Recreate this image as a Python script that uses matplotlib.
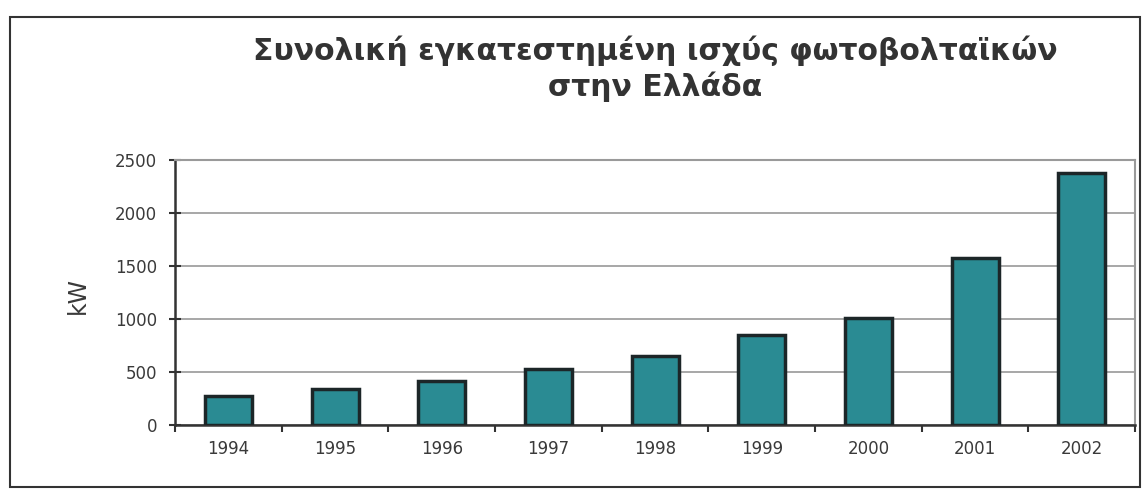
import matplotlib.pyplot as plt
from matplotlib.patches import Rectangle

plt.rcParams["font.family"] = ["DejaVu Sans"]

years = ["1994", "1995", "1996", "1997", "1998", "1999", "2000", "2001", "2002"]
power_kw = [280, 340, 415, 530, 655, 850, 1010, 1580, 2380]

title = "Συνολική εγκατεστημένη ισχύς φωτοβολταϊκών\nστην Ελλάδα"

fig = plt.figure(figsize=(11.47, 4.91), dpi=100)
ax = fig.add_axes([0.1526, 0.134, 0.837, 0.54])

# chart frame around everything
fig.patches.append(Rectangle((10 / 1147, 4 / 491), 1130 / 1147, 470 / 491,
                             transform=fig.transFigure, fill=False,
                             edgecolor="#333333", linewidth=1.5))

x = range(len(years))
ax.bar(x, power_kw, width=0.44, color="#2a8b93", edgecolor="#1c2628",
       linewidth=2.5, zorder=3)

ax.set_xlim(-0.5, len(years) - 0.5)
ax.set_ylim(0, 2500)
ax.set_yticks(range(0, 2501, 500))
ax.set_xticks(list(x))
ax.set_xticklabels(years)
ax.set_xticks([i + 0.5 for i in range(-1, len(years))], minor=True)
ax.tick_params(axis="x", which="major", length=0, pad=11, labelsize=12,
               labelcolor="#3a3a3a")
ax.tick_params(axis="x", which="minor", length=5, width=1.5, color="#333333")
ax.tick_params(axis="y", direction="inout", length=8, width=1.5, pad=9,
               labelsize=12, color="#333333", labelcolor="#3a3a3a")

ax.grid(axis="y", color="#8f8f8f", linewidth=1.1, zorder=0)
for side in ("top", "right"):
    ax.spines[side].set_color("#9a9a9a")
    ax.spines[side].set_linewidth(1.5)
for side in ("left", "bottom"):
    ax.spines[side].set_color("#333333")
    ax.spines[side].set_linewidth(1.8)

ax.text(-0.101, 0.49, "kW", transform=ax.transAxes, rotation=90,
        ha="center", va="center", fontsize=17, color="#3a3a3a")

fig.text(0.571, 0.86, title, ha="center", va="center", fontsize=21.5,
         fontweight="bold", color="#333333", linespacing=1.25)

fig.savefig("out.png", dpi=100, facecolor="white")
